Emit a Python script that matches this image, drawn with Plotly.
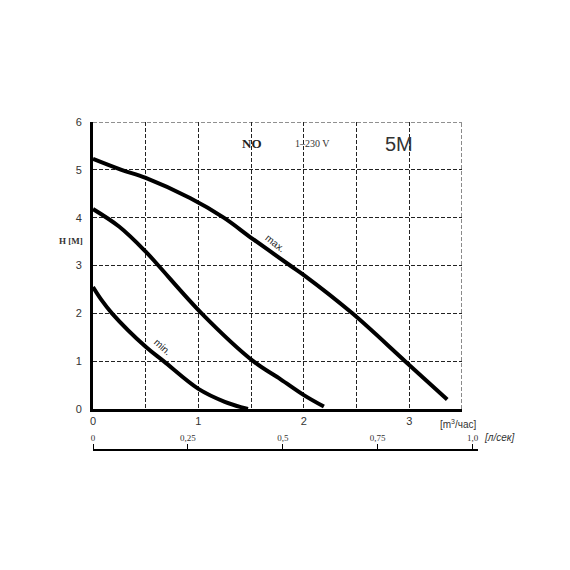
import plotly.graph_objects as go

# Flow (m3/h) and head (m) for each curve
max_q = [0, 0.27, 0.5, 0.92, 1.24, 1.5, 1.87, 2.0, 2.46, 2.96, 3.36]
max_h = [5.23, 5.0, 4.83, 4.41, 4.0, 3.58, 3.0, 2.8, 2.0, 1.0, 0.2]
mid_q = [0, 0.25, 0.5, 0.62, 1.03, 1.52, 1.78, 2.0, 2.19]
mid_h = [4.18, 3.81, 3.29, 3.0, 2.0, 1.0, 0.62, 0.29, 0.05]
min_q = [0, 0.08, 0.18, 0.5, 0.67, 1.0, 1.25, 1.47]
min_h = [2.55, 2.28, 2.0, 1.3, 1.0, 0.42, 0.15, 0.0]

x_ticks = [0, 1, 2, 3]
x_minor = [0.5, 1.5, 2.5, 3.5]
y_ticks = [0, 1, 2, 3, 4, 5, 6]
ls_ticks = [0, 0.25, 0.5, 0.75, 1.0]
ls_ticktext = ['0', '0,25', '0,5', '0,75', '1,0']
M3H_PER_LS = 3.6
X_MAX = 3.5
X_DOMAIN = 0.9584  # main plot width share of the paper (secondary axis line extends further)

fig = go.Figure()
for q, h in [(max_q, max_h), (mid_q, mid_h), (min_q, min_h)]:
    fig.add_trace(go.Scatter(x=q, y=h, mode='lines', line=dict(color='black', width=4, shape='spline', smoothing=1.0),
                             showlegend=False, hoverinfo='skip'))

# invisible trace for secondary (l/s) axis, on its own tiny hidden y axis
fig.add_trace(go.Scatter(x=[0, 1], y=[0, 0], xaxis='x2', yaxis='y2', mode='markers', marker=dict(opacity=0),
                         showlegend=False, hoverinfo='skip'))

grid = dict(showgrid=True, gridcolor='#222', gridwidth=1, griddash='4px,2px', zeroline=False)
fig.update_layout(
    width=562, height=562,
    margin=dict(l=85, r=92, t=114, b=120),
    plot_bgcolor='rgba(0,0,0,0)', paper_bgcolor='white',
    xaxis=dict(range=[0, X_MAX], domain=[0, X_DOMAIN], tickvals=x_ticks, showline=True,
               linecolor='black', linewidth=3, ticks='', anchor='y',
               minor=dict(tickvals=x_minor, showgrid=True, gridcolor='#222', gridwidth=1, griddash='4px,2px', ticks=''),
               tickfont=dict(family='Liberation Sans, Arial', size=11, color='#333'), **grid),
    yaxis=dict(range=[0, 6], tickvals=y_ticks, domain=[0.125, 1], showline=True, linecolor='black', linewidth=3,
               ticks='', ticklabelstandoff=6, anchor='x',
               tickfont=dict(family='Liberation Sans, Arial', size=11, color='#333'), **grid),
    xaxis2=dict(range=[0, X_MAX / M3H_PER_LS / X_DOMAIN], domain=[0, 1], anchor='free', position=0, side='top',
                tickvals=ls_ticks, ticktext=ls_ticktext, showline=True, linecolor='black', linewidth=1.5,
                ticks='outside', ticklen=5, tickcolor='black', showgrid=False, zeroline=False,
                tickfont=dict(family='Liberation Serif, Times New Roman', size=9, color='#333')),
    yaxis2=dict(domain=[0, 0.01], anchor='x2', visible=False, showgrid=False, zeroline=False),
)

# top & right dashed borders
fig.add_shape(type='line', xref='x', yref='y', x0=0, x1=X_MAX, y0=6, y1=6,
              line=dict(color='#222', width=1, dash='4px,2px'))
fig.add_shape(type='line', xref='x', yref='y', x0=X_MAX, x1=X_MAX, y0=0, y1=6,
              line=dict(color='#222', width=1, dash='4px,2px'))

ann = [
    dict(x=1.51, y=5.55, text='<b>NO</b>', font=dict(family='Liberation Serif', size=13, color='#222')),
    dict(x=2.08, y=5.55, text='1–230 V', font=dict(family='Liberation Serif', size=10, color='#333')),
    dict(x=2.9, y=5.55, text='5M', font=dict(family='Liberation Sans', size=20, color='#333')),
    dict(x=1.73, y=3.45, text='max.', textangle=38, font=dict(family='Liberation Sans', size=10, color='#222')),
    dict(x=0.655, y=1.3, text='min.', textangle=42, font=dict(family='Liberation Sans', size=10, color='#222')),
]
for a in ann:
    fig.add_annotation(xref='x', yref='y', showarrow=False, **a)

paper_ann = [
    dict(x=-0.0935, y=0.637, text='<b>H [M]</b>', font=dict(family='Liberation Serif', size=9, color='#333')),
    dict(x=0.896, y=0.055, xanchor='left', text='[m<sup>3</sup>/час]',
         font=dict(family='Liberation Sans', size=10, color='#333')),
    dict(x=1.01, y=0.015, xanchor='left', text='<i>[л/сек]</i>',
         font=dict(family='Liberation Sans', size=10, color='#333')),
]
for a in paper_ann:
    fig.add_annotation(xref='paper', yref='paper', showarrow=False, **a)

fig.write_html('out.html')
